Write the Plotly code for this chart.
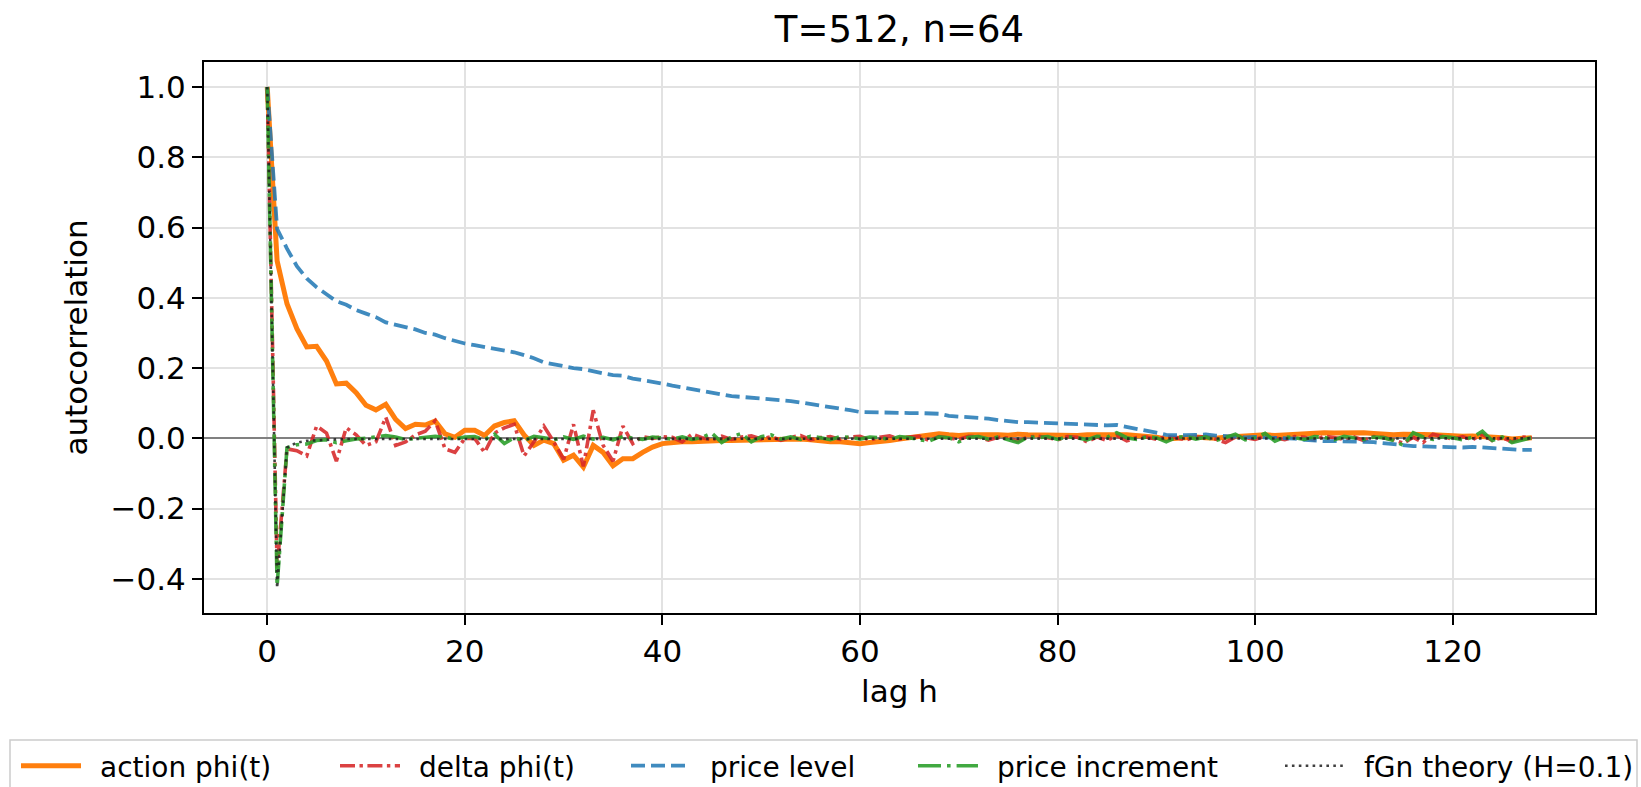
import plotly.graph_objects as go

# Autocorrelation estimates by lag, T=512, n=64
lags = list(range(129))

action_phi = [
    1.0, 0.505, 0.383, 0.312, 0.26, 0.262, 0.22, 0.155, 0.157, 0.13,
    0.094, 0.081, 0.097, 0.054, 0.028, 0.04, 0.038, 0.049, 0.013, 0.003,
    0.023, 0.023, 0.008, 0.035, 0.045, 0.05, 0.01, -0.02, -0.005, -0.015,
    -0.062, -0.048, -0.082, -0.02, -0.04, -0.078, -0.058, -0.058, -0.04, -0.025,
    -0.015, -0.012, -0.01, -0.01, -0.008, -0.008, -0.006, -0.006, -0.005, -0.004,
    -0.004, -0.005, -0.003, -0.002, -0.002, -0.004, -0.008, -0.01, -0.01, -0.012,
    -0.015, -0.012, -0.01, -0.006, -0.002, 0.002, 0.006, 0.01, 0.013, 0.01,
    0.008, 0.01, 0.011, 0.012, 0.01, 0.009, 0.012, 0.01, 0.009, 0.008,
    0.01, 0.009, 0.008, 0.01, 0.011, 0.012, 0.01, 0.01, 0.008, 0.006,
    0.003, -0.002, 0.0, 0.003, 0.004, 0.002, 0.0, 0.003, 0.005, 0.008,
    0.011, 0.01, 0.008, 0.01, 0.011, 0.014, 0.017, 0.016, 0.015, 0.016,
    0.018, 0.016, 0.014, 0.012, 0.01, 0.012, 0.013, 0.011, 0.01, 0.008,
    0.005, 0.006, 0.007, 0.006, 0.005, 0.002, -0.002, 0.0, 0.002,
]

delta_phi = [
    1.0, -0.37, -0.03, -0.035, -0.05, 0.035, 0.015, -0.065, 0.03, 0.01,
    -0.02, -0.01, 0.06, -0.02, -0.01, 0.01, 0.02, 0.05, -0.03, -0.04,
    0.0, 0.0, -0.04, 0.015, 0.03, 0.04, -0.05, -0.01, 0.035, -0.01,
    -0.06, 0.04, -0.08, 0.08, -0.02, -0.065, 0.035, -0.015, 0.005, 0.0,
    0.005, 0.003, -0.01, 0.012, 0.002, -0.004, 0.006, -0.003, 0.004, 0.007,
    -0.002, 0.005, -0.006, 0.003, 0.008, -0.004, 0.002, 0.005, -0.003, 0.004,
    0.006, -0.005, 0.003, 0.007, -0.002, 0.004, 0.006, -0.006, 0.005, 0.002,
    -0.003, 0.006, 0.004, -0.005, 0.003, 0.001, -0.008, 0.004, 0.006, 0.002,
    -0.004, 0.005, 0.003, -0.01, 0.004, -0.006, 0.008, -0.007, 0.002, 0.004,
    -0.003, 0.005, 0.002, -0.004, 0.003, 0.005, -0.002, -0.012, 0.004, 0.002,
    -0.003, 0.006, 0.002, -0.004, 0.005, 0.003, -0.005, 0.006, 0.002, -0.003,
    0.004, -0.006, 0.005, 0.002, -0.004, -0.014, 0.003, -0.012, 0.012, 0.004,
    -0.002, 0.005, -0.004, 0.012, -0.006, 0.002, -0.01, 0.004, 0.001,
]

price_level = [
    1.0, 0.596, 0.54, 0.49, 0.455, 0.43, 0.41, 0.39, 0.38, 0.365,
    0.355, 0.345, 0.33, 0.323, 0.318, 0.31, 0.3, 0.295, 0.285, 0.277,
    0.27, 0.265, 0.26, 0.255, 0.25, 0.245, 0.237, 0.228, 0.216, 0.21,
    0.205, 0.2, 0.197, 0.19, 0.185, 0.18, 0.178, 0.17, 0.166, 0.16,
    0.156, 0.15, 0.145, 0.138, 0.134, 0.128, 0.124, 0.12, 0.118, 0.116,
    0.114, 0.112, 0.11, 0.106, 0.102, 0.098, 0.093, 0.09, 0.086, 0.08,
    0.075, 0.074, 0.073, 0.073, 0.072, 0.072, 0.072, 0.071, 0.07, 0.064,
    0.062, 0.061, 0.058, 0.056, 0.052, 0.048, 0.046, 0.046, 0.045, 0.044,
    0.043, 0.041, 0.04, 0.038, 0.037, 0.037, 0.038, 0.033, 0.028, 0.022,
    0.016, 0.01, 0.009, 0.009, 0.01, 0.011, 0.008, 0.006, 0.003, 0.003,
    0.004, 0.003, 0.001, 0.0, -0.001, -0.004, -0.007, -0.008, -0.008, -0.008,
    -0.009, -0.01, -0.011, -0.014, -0.018, -0.02, -0.022, -0.023, -0.024, -0.025,
    -0.027, -0.026, -0.024, -0.026, -0.028, -0.03, -0.032, -0.033, -0.033,
]

price_increment = [
    1.0, -0.42, -0.027, -0.018, -0.016, -0.006, -0.004, -0.012, -0.007, -0.002,
    0.0, 0.003, 0.008, 0.004, -0.003, 0.0, 0.002, 0.006, 0.003, -0.002,
    0.004, 0.005, -0.004, 0.012, -0.015, 0.002, -0.006, 0.006, 0.002, -0.004,
    0.004, -0.003, 0.006, -0.002, 0.003, -0.004, 0.005, 0.002, -0.003, 0.004,
    0.002, -0.002, 0.004, -0.003, 0.002, 0.015, -0.012, 0.004, 0.014, -0.01,
    0.005, 0.01, -0.002, 0.004, -0.003, 0.006, 0.002, -0.004, 0.005, 0.003,
    -0.002, 0.004, 0.002, -0.003, 0.005, 0.002, -0.004, -0.008, 0.004, 0.002,
    -0.01, 0.003, 0.005, -0.002, 0.004, -0.004, -0.012, 0.004, 0.002, 0.005,
    -0.003, 0.004, 0.002, -0.004, 0.006, 0.003, 0.016, 0.002, -0.003, 0.004,
    0.002, -0.01, 0.003, 0.005, -0.002, 0.004, -0.006, 0.002, 0.012, -0.004,
    0.002, 0.014, -0.008, 0.004, 0.002, -0.003, 0.005, 0.003, -0.004, 0.006,
    0.002, -0.003, 0.004, 0.002, -0.006, -0.02, 0.016, 0.004, -0.003, 0.005,
    0.002, -0.004, 0.003, 0.02, -0.006, 0.004, -0.012, -0.004, 0.002,
]

fgn_theory = [
    1.0, -0.426, -0.026, -0.012, -0.007, -0.005, -0.004, -0.003, -0.002, -0.002,
    -0.002, -0.001, -0.001, -0.001, -0.001, 0.0, 0.0, 0.0, 0.0, 0.0,
    0.0, 0.0, 0.0, 0.0, 0.0, 0.0, 0.0, 0.0, 0.0, 0.0,
    0.0, 0.0, 0.0, 0.0, 0.0, 0.0, 0.0, 0.0, 0.0, 0.0,
    0.0, 0.0, 0.0, 0.0, 0.0, 0.0, 0.0, 0.0, 0.0, 0.0,
    0.0, 0.0, 0.0, 0.0, 0.0, 0.0, 0.0, 0.0, 0.0, 0.0,
    0.0, 0.0, 0.0, 0.0, 0.0, 0.0, 0.0, 0.0, 0.0, 0.0,
    0.0, 0.0, 0.0, 0.0, 0.0, 0.0, 0.0, 0.0, 0.0, 0.0,
    0.0, 0.0, 0.0, 0.0, 0.0, 0.0, 0.0, 0.0, 0.0, 0.0,
    0.0, 0.0, 0.0, 0.0, 0.0, 0.0, 0.0, 0.0, 0.0, 0.0,
    0.0, 0.0, 0.0, 0.0, 0.0, 0.0, 0.0, 0.0, 0.0, 0.0,
    0.0, 0.0, 0.0, 0.0, 0.0, 0.0, 0.0, 0.0, 0.0, 0.0,
    0.0, 0.0, 0.0, 0.0, 0.0, 0.0, 0.0, 0.0, 0.0,
]

FONT = "DejaVu Sans"
W, H = 1641, 787
ML, MR, MT, MB = 204, 46, 62, 174
PW = W - ML - MR
PH = H - MT - MB


def px_to_paper_x(px):
    return (px - ML) / PW


def px_to_paper_y(py):
    return (H - MB - py) / PH


# en space keeps a gap between each legend swatch and its label
GAP = "\u2002"

series = [
    ("action phi(t)", action_phi, dict(color="#ff7f0e", width=5), "legend"),
    ("delta phi(t)", delta_phi,
     dict(color="rgba(214,39,40,0.88)", width=3.6, dash="15px,4.5px,3.4px,4.5px"), "legend2"),
    ("price level", price_level,
     dict(color="rgba(31,119,180,0.85)", width=3.8, dash="14px,6px"), "legend3"),
    ("price increment", price_increment,
     dict(color="rgba(44,160,44,0.9)", width=3.6, dash="23px,6px,3.6px,6px"), "legend4"),
    ("fGn theory (H=0.1)", fgn_theory,
     dict(color="rgba(30,30,30,0.85)", width=2.6, dash="2.6px,4.3px"), "legend5"),
]

fig = go.Figure()
for name, vals, line, leg in series:
    fig.add_trace(go.Scatter(x=lags, y=vals, mode="lines", name=GAP + name,
                             line=line, legend=leg, showlegend=True))

# legend entries laid out in one framed row below the axes
entry_px = [16, 335, 626, 913, 1280]
legend_top = px_to_paper_y(741)
legends = {}
for i, xpx in enumerate(entry_px):
    key = "legend" if i == 0 else f"legend{i + 1}"
    legends[key] = dict(
        x=px_to_paper_x(xpx), y=legend_top, xanchor="left", yanchor="top",
        orientation="h", bgcolor="rgba(0,0,0,0)", borderwidth=0,
        font=dict(family=FONT, size=28, color="#000000"), itemwidth=60,
    )

fig.update_layout(
    width=W, height=H,
    margin=dict(l=ML, r=MR, t=MT, b=MB, autoexpand=False),
    paper_bgcolor="white", plot_bgcolor="white",
    font=dict(family=FONT, size=30, color="#000000"),
    title=dict(text="T=512, n=64", x=(ML + PW / 2) / W, xanchor="center",
               y=1 - 29 / H, yanchor="middle",
               font=dict(family=FONT, size=37, color="#000000")),
    showlegend=True,
    **legends,
    shapes=[dict(type="rect", xref="paper", yref="paper",
                 x0=px_to_paper_x(10), x1=px_to_paper_x(1637),
                 y0=px_to_paper_y(740), y1=px_to_paper_y(800),
                 line=dict(color="#cccccc", width=1.5), fillcolor="white",
                 layer="below")],
)

fig.update_xaxes(
    range=[-6.4, 134.4], tick0=0, dtick=20,
    showgrid=True, gridcolor="#e2e2e2", gridwidth=2,
    zeroline=False,
    showline=True, mirror=True, linecolor="black", linewidth=2,
    ticks="outside", ticklen=10, tickwidth=2, tickcolor="black",
    tickfont=dict(family=FONT, size=31, color="#000000"),
    title=dict(text="lag h", font=dict(family=FONT, size=31, color="#000000"), standoff=12),
)
fig.update_yaxes(
    range=[-0.497, 1.071], tick0=0, dtick=0.2, tickformat=".1f",
    showgrid=True, gridcolor="#e2e2e2", gridwidth=2,
    zeroline=True, zerolinecolor="#808080", zerolinewidth=2,
    showline=True, mirror=True, linecolor="black", linewidth=2,
    ticks="outside", ticklen=10, tickwidth=2, tickcolor="black",
    tickfont=dict(family=FONT, size=31, color="#000000"),
    title=dict(text="autocorrelation", font=dict(family=FONT, size=31, color="#000000"), standoff=14),
)

fig.write_html("out.html")
